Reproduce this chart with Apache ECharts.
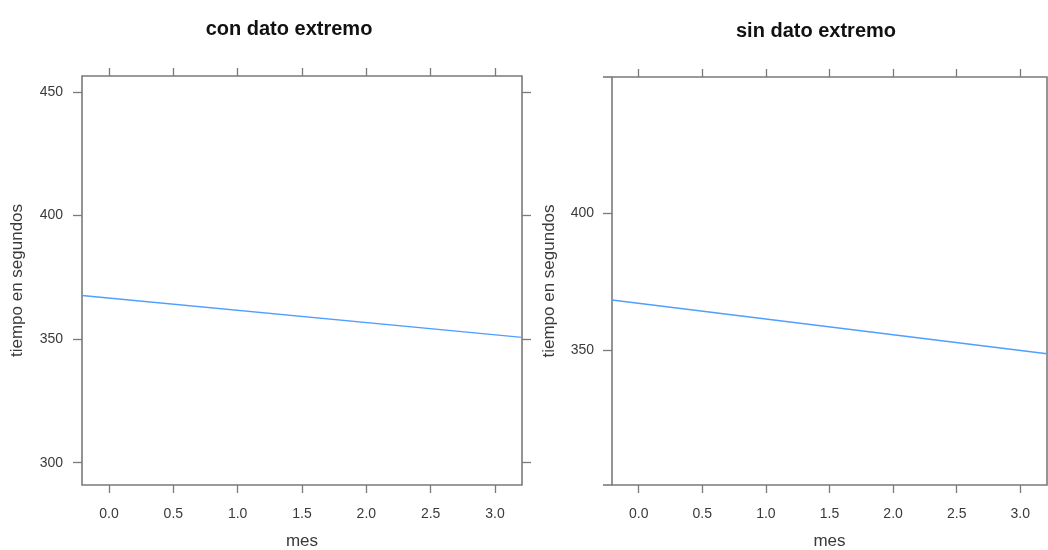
<!DOCTYPE html>
<html><head><meta charset="utf-8">
<script src="https://cdn.jsdelivr.net/npm/echarts@6/dist/echarts.min.js"></script>
<style>html,body{margin:0;padding:0;background:#fff}#c{width:1048px;height:550px}</style>
</head><body><div id="c"></div>
<script>
var panelTitles = ['con dato extremo', 'sin dato extremo'];
var xTicks = [0, 0.5, 1.0, 1.5, 2.0, 2.5, 3.0];
var yTicksLeft = [300, 350, 400, 450];
var yTicksRight = [350, 400];
var lineX = [-0.21, 3.21];
var lineYLeft = [367.6, 350.7];
var lineYRight = [368.4, 348.8];
var xLabel = 'mes';
var yLabel = 'tiempo en segundos';

var FONT = 'Liberation Sans, Arial, sans-serif';
var AX = '#7a7a7a';
var TXT = '#3a3a3a';
function pts(ys){ return lineX.map(function(x,i){ return [x, ys[i]]; }); }

var chart = echarts.init(document.getElementById('c'), null, {renderer:'canvas'});
function xAx(gi, pos){
  return {
    type:'value', gridIndex:gi, position:pos, min:-0.21, max:3.21,
    name: pos==='bottom' ? xLabel : '', nameLocation:'middle', nameGap:48,
    nameTextStyle:{fontFamily:FONT, fontSize:17, color:TXT},
    axisLine:{show:false, onZero:false}, splitLine:{show:false},
    axisTick:{show:true, inside:false, length:8, customValues:xTicks, lineStyle:{color:AX, width:1.3}},
    axisLabel:{show: pos==='bottom', margin:22, customValues:xTicks, fontFamily:FONT, fontSize:14, color:TXT,
      formatter:function(v){ return Number(v).toFixed(1); }}
  };
}
function yAx(gi, pos, mn, mx, ticks, gap, lm){
  return {
    type:'value', gridIndex:gi, position:pos, min:mn, max:mx,
    name: pos==='left' ? yLabel : '', nameLocation:'middle', nameGap:gap,
    nameTextStyle:{fontFamily:FONT, fontSize:17, color:TXT},
    axisLine:{show:false, onZero:false}, splitLine:{show:false},
    axisTick:{show:true, inside:false, length:9, customValues:ticks, lineStyle:{color:AX, width:1.3}},
    axisLabel:{show: pos==='left', margin:lm, customValues:ticks, fontFamily:FONT, fontSize:14, color:TXT}
  };
}
var option = {
  animation:false,
  backgroundColor:'#fff',
  title:[
    {text:panelTitles[0], left:284, top:14, textAlign:'center', textStyle:{fontFamily:FONT, fontSize:20, fontWeight:'bold', color:'#111'}},
    {text:panelTitles[1], left:811, top:16, textAlign:'center', textStyle:{fontFamily:FONT, fontSize:20, fontWeight:'bold', color:'#111'}}
  ],
  grid:[
    {left:82, top:76, width:440, height:409, show:true, borderColor:AX, borderWidth:1.6, backgroundColor:'#fff', outerBoundsMode:'none', containLabel:false},
    {left:612, top:77, width:435, height:408, show:true, borderColor:AX, borderWidth:1.6, backgroundColor:'#fff', outerBoundsMode:'none', containLabel:false}
  ],
  graphic:[
    {type:'line', shape:{x1:603, y1:77, x2:612, y2:77}, style:{stroke:AX, lineWidth:1.6}},
    {type:'line', shape:{x1:603, y1:485, x2:612, y2:485}, style:{stroke:AX, lineWidth:1.6}}
  ],
  xAxis:[xAx(0,'bottom'), xAx(0,'top'), xAx(1,'bottom'), xAx(1,'top')],
  yAxis:[yAx(0,'left',291,456.4,yTicksLeft,56,19), yAx(0,'right',291,456.4,yTicksLeft,56,19),
         yAx(1,'left',301,449.7,yTicksRight,54,18)],
  series:[
    {type:'line', xAxisIndex:0, yAxisIndex:0, data:pts(lineYLeft), showSymbol:false, symbol:'none',
      lineStyle:{color:'#4f9fff', width:1.5}},
    {type:'line', xAxisIndex:2, yAxisIndex:2, data:pts(lineYRight), showSymbol:false, symbol:'none',
      lineStyle:{color:'#4f9fff', width:1.5}}
  ]
};
chart.setOption(option);
</script></body></html>
